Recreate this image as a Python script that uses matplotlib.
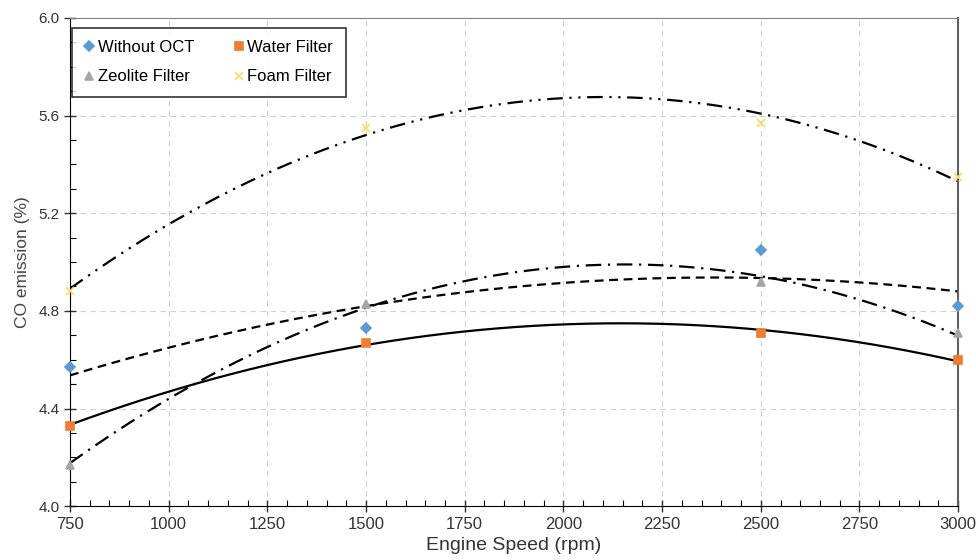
import numpy as np
import matplotlib
matplotlib.use("Agg")
import matplotlib.pyplot as plt
from matplotlib.ticker import MultipleLocator, FormatStrFormatter

plt.rcParams['font.family'] = ['Liberation Sans', 'DejaVu Sans']

speed = [750, 1500, 2500, 3000]
without_oct = [4.57, 4.73, 5.05, 4.82]
water = [4.33, 4.67, 4.71, 4.60]
zeolite = [4.17, 4.83, 4.92, 4.71]
foam = [4.88, 5.55, 5.57, 5.35]

series = [
    ("Without OCT", without_oct, "D", "#5B9BD5", 5, (0, (4, 2.5))),
    ("Water Filter", water, "s", "#ED7D31", 6, "-"),
    ("Zeolite Filter", zeolite, "^", "#A5A5A5", 6, (0, (7, 3, 1, 3))),
    ("Foam Filter", foam, "x", "#FFD966", 6, (0, (7, 3, 1, 3, 1, 3))),
]

fig = plt.figure(figsize=(9.76, 5.6), dpi=100)
ax = fig.add_axes([0.0717, 0.096, 0.91, 0.872])

xs = np.linspace(750, 3000, 300)
handles = {}
for name, vals, mk, col, ms, ls in series:
    # 2nd order trendline through the points
    coef = np.polyfit(speed, vals, 2)
    ax.plot(xs, np.polyval(coef, xs), color="black", lw=1.6, ls=ls, zorder=2)
    h, = ax.plot(speed, vals, ls="none", marker=mk, color=col, ms=ms,
                 mew=1.2, label=name, zorder=3, clip_on=False)
    handles[name] = h

ax.set_xlim(750, 3000)
ax.set_ylim(4.0, 6.0)
ax.xaxis.set_major_locator(MultipleLocator(250))
ax.xaxis.set_minor_locator(MultipleLocator(50))
ax.yaxis.set_major_locator(MultipleLocator(0.4))
ax.yaxis.set_minor_locator(MultipleLocator(0.1))
ax.yaxis.set_major_formatter(FormatStrFormatter("%.1f"))
ax.tick_params(which="major", direction="inout", length=8, width=1, colors="#333333")
ax.tick_params(axis="y", labelsize=11)
ax.tick_params(axis="x", labelsize=12)
ax.tick_params(which="minor", direction="in", length=4, width=0.8)
ax.grid(True, which="major", ls=(0, (5, 4)), color="#d0d0d0", lw=0.8)

ax.spines["left"].set_color("black")
ax.spines["bottom"].set_color("black")
ax.spines["top"].set_color("#808080")
ax.spines["right"].set_color("#606060")
ax.spines["right"].set_linewidth(1.5)

ax.set_xlabel("Engine Speed (rpm)", fontsize=14, color="#333333", labelpad=4)
ax.set_ylabel("CO emission (%)", fontsize=12.5, color="#444444", labelpad=6)

order = ["Without OCT", "Zeolite Filter", "Water Filter", "Foam Filter"]
leg = ax.legend([handles[n] for n in order], order, ncol=2, loc="upper left",
                bbox_to_anchor=(0.002, 0.98), fontsize=12,
                frameon=True, fancybox=False, edgecolor="black", handlelength=0.6,
                handletextpad=0.2, columnspacing=2.4, borderpad=0.75, labelspacing=0.85,
                borderaxespad=0)
leg.get_frame().set_linewidth(1.2)

fig.savefig("out.png", dpi=100)
